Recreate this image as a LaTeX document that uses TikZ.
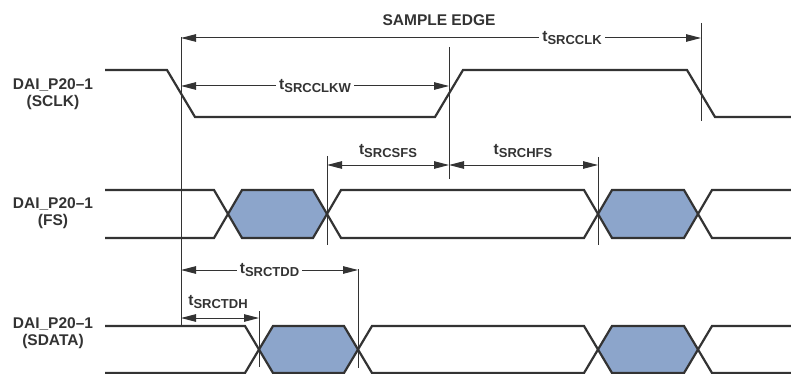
\documentclass[tikz,border=0pt]{standalone}
\usepackage{fontspec}
\setmainfont{Liberation Sans}
\usetikzlibrary{arrows.meta,positioning,calc}
\definecolor{wavecol}{RGB}{51,51,51}
\definecolor{busfill}{RGB}{140,165,203}
\newcommand{\tsig}[1]{t\raisebox{-3.5pt}{\fontsize{13}{13}\selectfont #1}}

\begin{document}
\begin{tikzpicture}[x=1pt,y=-1pt,
    wave/.style={line width=2.2pt, draw=wavecol, line join=miter},
    markline/.style={line width=0.9pt, draw=wavecol},
    dimarrow/.style={line width=1pt, draw=wavecol,
        {Triangle[length=15pt,width=7.5pt]}-{Triangle[length=15pt,width=7.5pt]}},
    signame/.style={font=\fontsize{15.5}{17}\selectfont\bfseries, align=center, text=wavecol},
    tname/.style={font=\fontsize{15.5}{17}\selectfont\bfseries, text=wavecol, fill=white, inner sep=3pt}]
    \useasboundingbox (0,0) rectangle (791,374);

    % signal names
    \node[signame] (sclk) at (53,94) {DAI\_P20--1\\(SCLK)};
    \node[signame] (fs) at (53,213) {DAI\_P20--1\\(FS)};
    \node[signame] (sdata) at (53,333) {DAI\_P20--1\\(SDATA)};

    % valid data
    \foreach \a/\b/\yt/\yb in {228/327/190/238, 598/698/190/238, 259/358/326/373, 598/698/326/373}
        \fill[busfill] (\a,{(\yt+\yb)/2}) -- (\a+14,\yt) -- (\b-14,\yt) -- (\b,{(\yt+\yb)/2})
            -- (\b-14,\yb) -- (\a+14,\yb) -- cycle;

    % waveforms
    \draw[wave] (105,70) -- (167,70) -- (195,117) -- (435,117) -- (463,70) -- (687,70) -- (715,117) -- (791,117);
    \draw[wave] (105,190) -- (214,190) -- (242,238) -- (313,238) -- (341,190) -- (584,190) -- (612,238) -- (684,238) -- (712,190) -- (791,190);
    \draw[wave] (105,238) -- (214,238) -- (242,190) -- (313,190) -- (341,238) -- (584,238) -- (612,190) -- (684,190) -- (712,238) -- (791,238);
    \draw[wave] (105,326) -- (245,326) -- (273,373) -- (344,373) -- (372,326) -- (584,326) -- (612,373) -- (684,373) -- (712,326) -- (791,326);
    \draw[wave] (105,373) -- (245,373) -- (273,326) -- (344,326) -- (372,373) -- (584,373) -- (612,326) -- (684,326) -- (712,373) -- (791,373);

    % edge markers
    \coordinate (mA1) at (181,37);  \coordinate (mA2) at (181,326);
    \coordinate (mB1) at (449,47);  \coordinate (mB2) at (449,179);
    \coordinate (mC1) at (701,23);  \coordinate (mC2) at (701,121);
    \coordinate (mD1) at (327,156); \coordinate (mD2) at (327,245);
    \coordinate (mE1) at (598,157); \coordinate (mE2) at (598,245);
    \coordinate (mF1) at (259,311); \coordinate (mF2) at (259,367);
    \coordinate (mG1) at (358,269); \coordinate (mG2) at (358,368);
    \foreach \m in {mA,mB,mC,mD,mE,mF,mG}
        \draw[markline] (\m1) -- (\m2);

    % timing arrows
    \coordinate (clkL) at (181,38);  \coordinate (clkR) at (701,38);
    \coordinate (clkwL) at (181,86); \coordinate (clkwR) at (449,86);
    \coordinate (sfsL) at (327,165); \coordinate (sfsR) at (449,165);
    \coordinate (hfsR) at (598,165);
    \coordinate (tddL) at (181,270); \coordinate (tddR) at (358,270);
    \coordinate (tdhL) at (181,318); \coordinate (tdhR) at (259,318);

    \node[signame] (sample) at (439,20) {SAMPLE EDGE};
    \draw[dimarrow] (clkL) -- (clkR) node[tname, pos=0.752] (tclk) {\tsig{SRCCLK}};
    \draw[dimarrow] (clkwL) -- (clkwR) node[tname, midway] (tclkw) {\tsig{SRCCLKW}};
    \draw[dimarrow] (sfsL) -- (sfsR);
    \draw[dimarrow] (sfsR) -- (hfsR);
    \node[tname, fill=none] (tsfs) at (388,151) {\tsig{SRCSFS}};
    \node[tname, fill=none] (thfs) at (523,151) {\tsig{SRCHFS}};
    \draw[dimarrow] (tddL) -- (tddR) node[tname, midway] (ttdd) {\tsig{SRCTDD}};
    \draw[dimarrow] (tdhL) -- (tdhR);
    \node[tname, fill=none] (ttdh) at (218,302) {\tsig{SRCTDH}};
\end{tikzpicture}
\end{document}
